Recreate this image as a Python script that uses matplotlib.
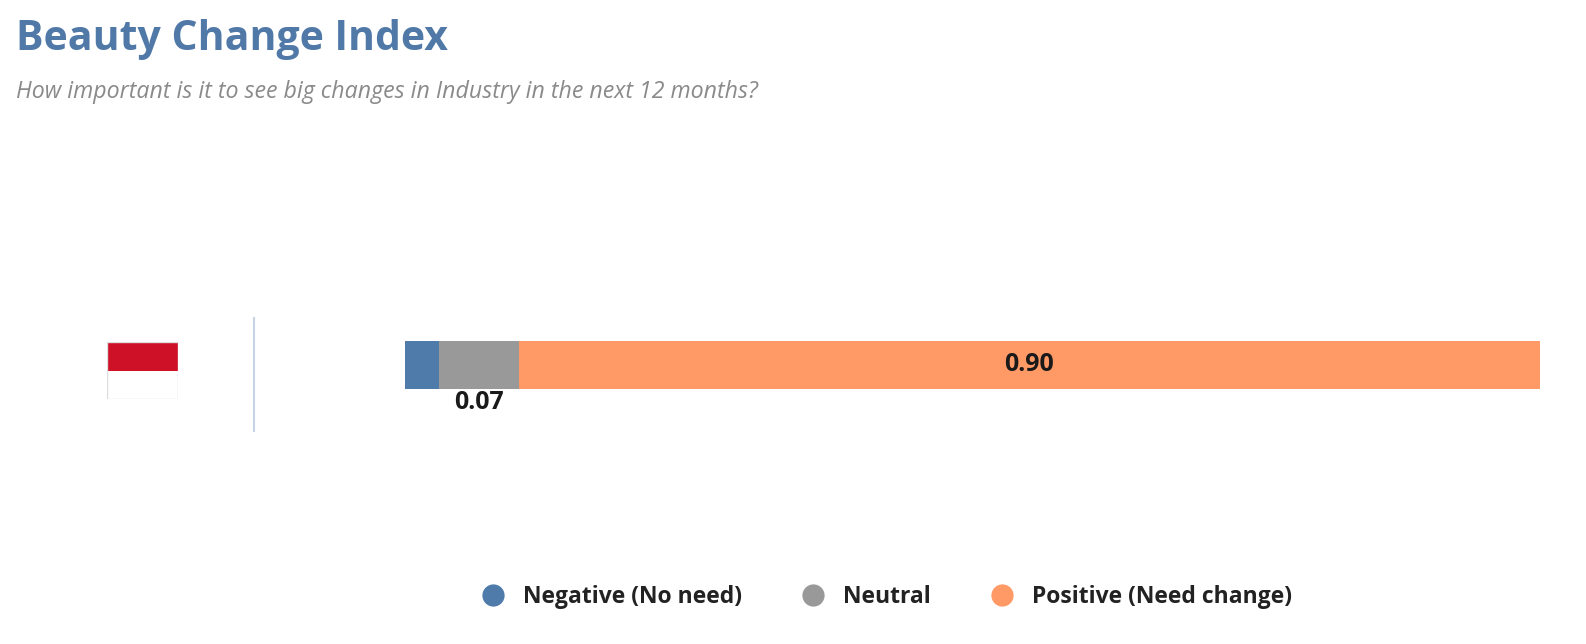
import matplotlib.pyplot as plt
from matplotlib.patches import Rectangle
from matplotlib.lines import Line2D

plt.rcParams['font.family'] = ['Open Sans', 'DejaVu Sans']

# data
categories = ['Negative (No need)', 'Neutral', 'Positive (Need change)']
values = [0.03, 0.07, 0.90]
colors = ['#4f7bab', '#999999', '#ff9966']
labels = ['', '0.07', '0.90']

fig = plt.figure(figsize=(15.86, 6.44), dpi=100)

fig.text(16 / 1586, 1 - 50 / 644, 'Beauty Change Index', fontsize=29.5,
         fontweight='bold', color='#5079a8', ha='left', va='baseline')
fig.text(16 / 1586, 1 - 98 / 644,
         'How important is it to see big changes in Industry in the next 12 months?',
         fontsize=16.7, style='italic', color='#8a8a8a', ha='left', va='baseline')

# bar axes
ax = fig.add_axes([405 / 1586, 1 - 413 / 644, 1135 / 1586, 96 / 644])
ax.set_xlim(0, 1)
ax.set_ylim(-1, 1)
h = 1.0
left = 0
for v, c, lab in zip(values, colors, labels):
    ax.barh(0, v, left=left, height=h, color=c, edgecolor='none')
    if lab == '0.90':
        ax.text(left + v / 2, 0, lab, ha='center', va='center',
                fontsize=18, fontweight='bold', color='#1a1a1a')
    elif lab:
        ax.text(left + v / 2, -h / 2 - 0.03, lab, ha='center', va='top',
                fontsize=18, fontweight='bold', color='#1a1a1a', clip_on=False)
    left += v
ax.axis('off')

# separator line
fig.add_artist(Line2D([254 / 1586, 254 / 1586], [1 - 318 / 644, 1 - 431 / 644],
                      color='#c8d3e6', lw=1.5))

# flag
fax = fig.add_axes([107 / 1586, 1 - 399 / 644, 71 / 1586, 57 / 644])
fax.set_xlim(0, 1)
fax.set_ylim(0, 1)
fax.add_patch(Rectangle((0, 0.5), 1, 0.5, color='#ce1126'))
fax.add_patch(Rectangle((0, 0), 1, 0.5, facecolor='white', edgecolor='none'))
fax.add_patch(Rectangle((0, 0), 1, 1, facecolor='none', edgecolor='#dddddd', lw=1))
fax.axis('off')

handles = [Line2D([], [], marker='o', linestyle='none', markersize=16,
                  markerfacecolor=c, markeredgecolor='none') for c in colors]
fig.legend(handles, categories, loc='center', bbox_to_anchor=(881 / 1586, 1 - 597 / 644),
           ncol=3, frameon=False, prop={'size': 16.5, 'weight': 'bold'},
           handletextpad=0.3, columnspacing=2.1, labelcolor='#222222')

fig.savefig('out.png', dpi=100)
